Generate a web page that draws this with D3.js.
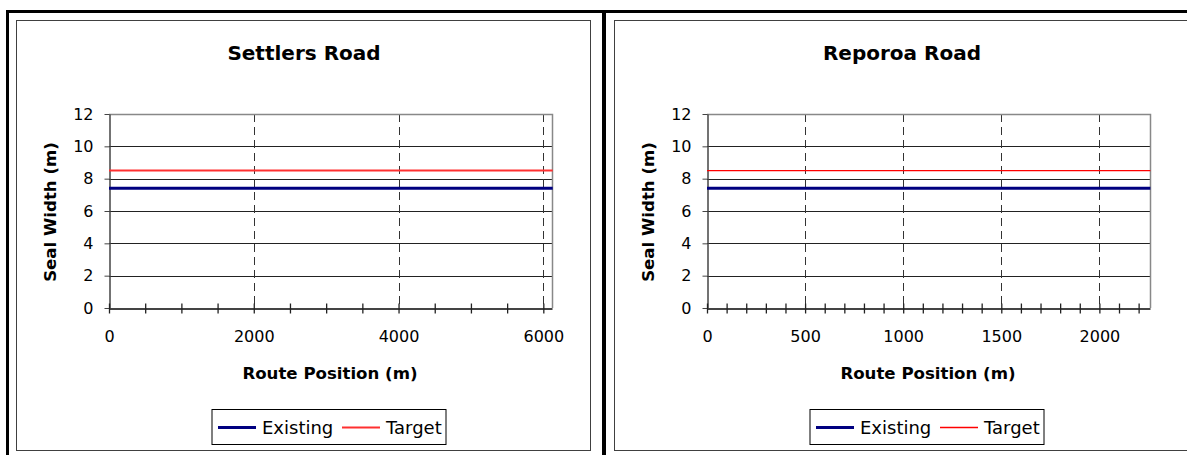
<!DOCTYPE html>
<html>
<head>
<meta charset="utf-8">
<script src="https://cdn.jsdelivr.net/npm/d3@7"></script>
<style>
  body { margin: 0; background: #fff; }
  svg text { font-family: "DejaVu Sans", "Liberation Sans", Arial, sans-serif; fill: #000; }
</style>
</head>
<body>
<script>
// Settlers Road data (route position in m, seal width in m)
var settlersPos = [0, 1450, 3840, 6130];
var settlersExisting = [7.4, 7.4, 7.4, 7.4];
var settlersTarget = [8.5, 8.5, 8.5, 8.5];

// Reporoa Road data
var reporoaPos = [0, 1130, 2260];
var reporoaExisting = [7.4, 7.4, 7.4];
var reporoaTarget = [8.5, 8.5, 8.5];

// axis ticks
var yTicks = [0, 2, 4, 6, 8, 10, 12];
var settlersXTicks = [0, 2000, 4000, 6000];
var reporoaXTicks = [0, 500, 1000, 1500, 2000];
var seriesNames = ["Existing", "Target"];

var FONT = "DejaVu Sans, Liberation Sans, Arial, sans-serif";

var svg = d3.select("body").append("svg")
  .attr("width", 1187)
  .attr("height", 455);

// outer frame + divider
svg.append("rect")
  .attr("x", 7.5).attr("y", 11.5)
  .attr("width", 1300).attr("height", 600)
  .attr("fill", "none").attr("stroke", "#000").attr("stroke-width", 3);
svg.append("line")
  .attr("x1", 604).attr("x2", 604).attr("y1", 10).attr("y2", 455)
  .attr("stroke", "#000").attr("stroke-width", 4);

function drawChart(opt) {
  var ox = opt.ox;
  var g = svg.append("g").attr("transform", "translate(" + ox + ",0)");

  // chart area border
  g.append("rect")
    .attr("x", 16.5).attr("y", 20.5)
    .attr("width", opt.boxW).attr("height", 430)
    .attr("fill", "none").attr("stroke", "#404040").attr("stroke-width", 1);

  var x = d3.scaleLinear().domain([0, opt.xMax]).range([109, 552]);
  var y = d3.scaleLinear().domain([0, 12]).range([308, 114]);

  // horizontal gridlines
  g.append("g").selectAll("line")
    .data(yTicks.filter(function(d) { return d > 0 && d < 12; }))
    .enter().append("line")
    .attr("x1", x(0)).attr("x2", x(opt.xMax))
    .attr("y1", function(d) { return Math.round(y(d)) + 0.5; })
    .attr("y2", function(d) { return Math.round(y(d)) + 0.5; })
    .attr("stroke", "#222").attr("stroke-width", 1);

  // vertical dashed gridlines
  g.append("g").selectAll("line")
    .data(opt.xTicks.filter(function(d) { return d > 0; }))
    .enter().append("line")
    .attr("x1", function(d) { return Math.round(x(d)) + 0.5; })
    .attr("x2", function(d) { return Math.round(x(d)) + 0.5; })
    .attr("y1", y(12)).attr("y2", y(0))
    .attr("stroke", "#333").attr("stroke-width", 1)
    .attr("stroke-dasharray", "8,5");

  // plot border top/right
  g.append("path")
    .attr("d", "M" + x(0) + "," + (y(12) + 0.5) + "H" + (x(opt.xMax) + 0.5) + "V" + y(0))
    .attr("fill", "none").attr("stroke", "#888").attr("stroke-width", 1.5);

  // y axis
  var yAxis = g.append("g")
    .attr("transform", "translate(" + (x(0) + 0.5) + ",0)")
    .call(d3.axisLeft(y).tickValues(yTicks).tickSize(5).tickSizeOuter(0).tickPadding(11));
  yAxis.attr("font-family", FONT).attr("font-size", 16);
  yAxis.select(".domain").attr("stroke", "#444").attr("stroke-width", 1.5);
  yAxis.selectAll("line").attr("stroke", "#444");

  // x axis: minor ticks crossing the axis
  var minor = d3.range(0, opt.xMax, opt.minorStep);
  var xAxis = g.append("g")
    .attr("transform", "translate(0," + (y(0) + 0.5) + ")")
    .call(d3.axisBottom(x).tickValues(minor).tickSize(5).tickSizeOuter(0).tickFormat(""));
  xAxis.select(".domain").attr("stroke", "#444").attr("stroke-width", 2);
  xAxis.selectAll(".tick line").attr("y1", -5).attr("stroke", "#222").attr("stroke-width", 1.3);

  // x labels
  var xLab = g.append("g")
    .attr("transform", "translate(0," + (y(0) + 0.5) + ")")
    .call(d3.axisBottom(x).tickValues(opt.xTicks).tickSize(0).tickPadding(22).tickFormat(d3.format("d")));
  xLab.attr("font-family", FONT).attr("font-size", 16);
  xLab.select(".domain").remove();

  // lines
  var line = d3.line()
    .x(function(d) { return x(d[0]); })
    .y(function(d) { return y(d[1]); });

  g.append("path")
    .datum(opt.pos.map(function(p, i) { return [p, opt.target[i]]; }))
    .attr("d", line)
    .attr("fill", "none").attr("stroke", opt.targetColor).attr("stroke-width", opt.targetW);

  g.append("path")
    .datum(opt.pos.map(function(p, i) { return [p, opt.existing[i]]; }))
    .attr("d", line)
    .attr("fill", "none").attr("stroke", "#000080").attr("stroke-width", 3);

  // titles
  g.append("text")
    .attr("x", 304).attr("y", 60)
    .attr("text-anchor", "middle")
    .attr("font-size", "20px").attr("font-weight", "bold")
    .text(opt.title);

  g.append("text")
    .attr("x", 330).attr("y", 379)
    .attr("text-anchor", "middle")
    .attr("font-size", "16.6px").attr("font-weight", "bold")
    .text("Route Position (m)");

  g.append("text")
    .attr("transform", "translate(56,212) rotate(-90)")
    .attr("text-anchor", "middle")
    .attr("font-size", "16.6px").attr("font-weight", "bold")
    .text("Seal Width (m)");

  // legend
  var lg = g.append("g").attr("transform", "translate(212,409.5)");
  lg.append("rect")
    .attr("x", 0).attr("y", 0).attr("width", 234).attr("height", 35)
    .attr("fill", "#fff").attr("stroke", "#000").attr("stroke-width", 1);
  var items = lg.selectAll(".item")
    .data(seriesNames)
    .enter().append("g")
    .attr("class", "item")
    .attr("transform", function(d, i) { return "translate(" + (6 + i * 124) + ",0)"; });
  items.append("line")
    .attr("x1", 0).attr("x2", 38).attr("y1", 18).attr("y2", 18)
    .attr("stroke", function(d, i) { return i == 0 ? "#000080" : opt.targetColor; })
    .attr("stroke-width", function(d, i) { return i == 0 ? 3 : opt.legendW; });
  items.append("text")
    .attr("x", 44).attr("y", 24.5)
    .attr("font-size", "18px")
    .text(function(d) { return d; });
}

drawChart({
  ox: 0, boxW: 574, title: "Settlers Road",
  xMax: 6120, xTicks: settlersXTicks, minorStep: 500,
  pos: settlersPos, existing: settlersExisting, target: settlersTarget,
  targetW: 2, legendW: 2, targetColor: "#ff3030"
});

drawChart({
  ox: 598, boxW: 700, title: "Reporoa Road",
  xMax: 2258, xTicks: reporoaXTicks, minorStep: 100,
  pos: reporoaPos, existing: reporoaExisting, target: reporoaTarget,
  targetW: 1.2, legendW: 1.6, targetColor: "#ff0000"
});
</script>
</body>
</html>
